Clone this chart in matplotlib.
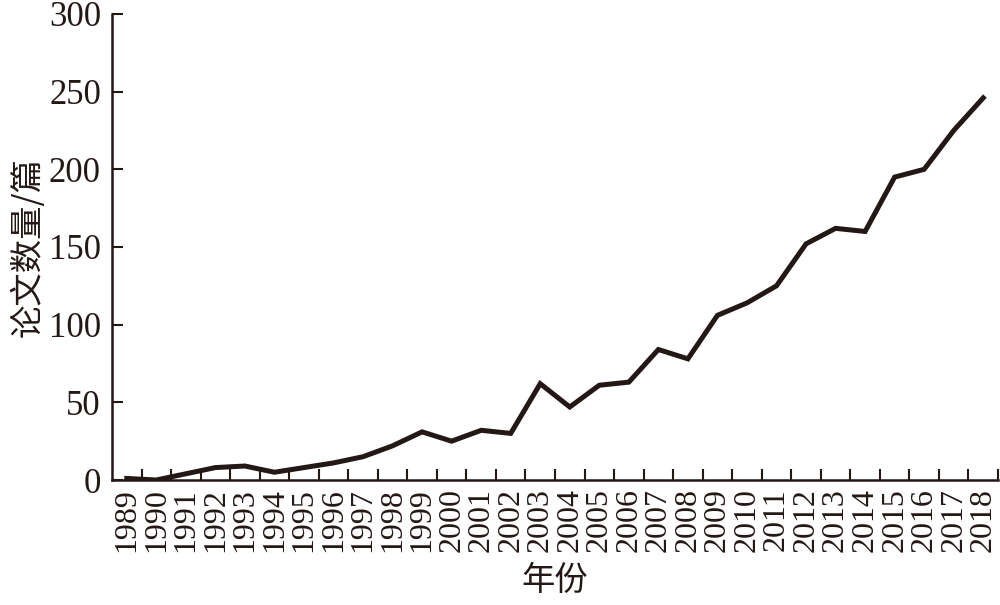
import matplotlib
matplotlib.use("Agg")
import matplotlib.pyplot as plt
from matplotlib.ticker import FixedLocator

years = [str(y) for y in range(1989, 2019)]
papers = [1, 0, 4, 8, 9, 5, 8, 11, 15, 22, 31, 25, 32, 30, 62, 47, 61, 63,
          84, 78, 106, 114, 125, 152, 162, 160, 195, 200, 225, 246]
yticks = [0, 50, 100, 150, 200, 250, 300]

ink = "#231815"
serif = ["Liberation Serif", "DejaVu Serif"]
cjk = ["Noto Sans CJK SC", "DejaVu Sans"]

fig = plt.figure(figsize=(10, 6.05), dpi=100)
ax = fig.add_axes([0.112, 0.2066, 0.886, 0.7703])

x = list(range(len(years)))
ax.plot(x, papers, color=ink, lw=3.6, solid_joinstyle="miter")

ax.set_xlim(-0.5, len(years) - 0.5)
ax.set_ylim(0, 300)

# major ticks at category centres (labels), minor ticks at boundaries (marks)
ax.xaxis.set_major_locator(FixedLocator(x))
ax.set_xticklabels(years, rotation=90, fontsize=23, family=serif, color=ink)
ax.xaxis.set_minor_locator(FixedLocator([i + 0.5 for i in x]))
ax.tick_params(axis="x", which="major", length=0, pad=6)
ax.tick_params(axis="x", which="minor", direction="in", length=8, width=1.5, color=ink)

ax.set_yticks(yticks)
ax.set_yticklabels([str(v) for v in yticks], fontsize=25, family=serif, color=ink)
ax.tick_params(axis="y", direction="in", length=8, width=1.5, color=ink, pad=8)

for s in ["top", "right"]:
    ax.spines[s].set_visible(False)
for s in ["left", "bottom"]:
    ax.spines[s].set_linewidth(1.8)
    ax.spines[s].set_color(ink)

ax.set_ylabel("论文数量/篇", fontsize=24, family=cjk, color=ink, labelpad=2)
ax.set_xlabel("年份", fontsize=24, family=cjk, color=ink, labelpad=8)

fig.savefig("out.png", dpi=100)
